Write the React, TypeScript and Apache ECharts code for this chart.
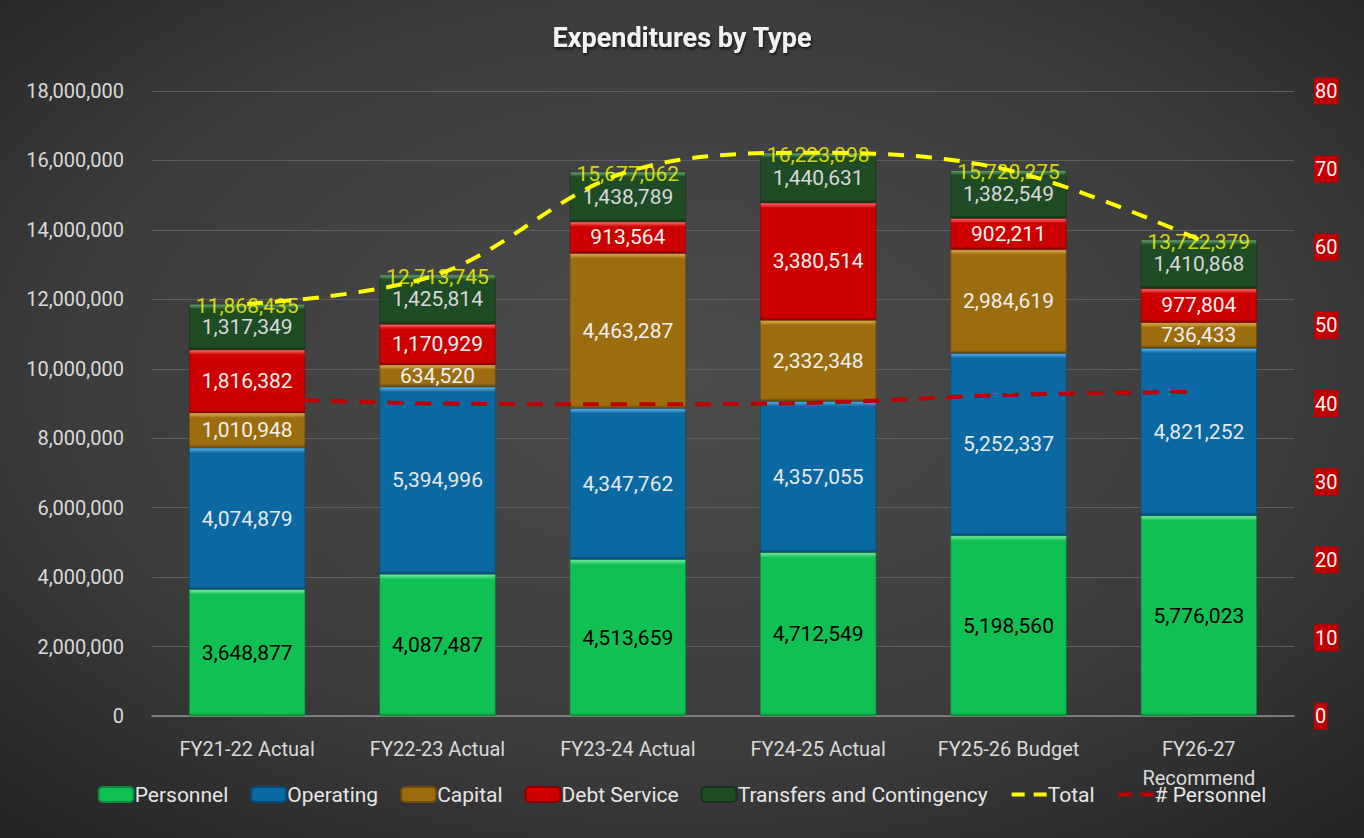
import React, { useEffect, useRef } from "react";
import * as echarts from "echarts";

const categories = [
  "FY21-22 Actual",
  "FY22-23 Actual",
  "FY23-24 Actual",
  "FY24-25 Actual",
  "FY25-26 Budget",
  "FY26-27 Recommend",
];
const personnel = [3648877, 4087487, 4513659, 4712549, 5198560, 5776023];
const operating = [4074879, 5394996, 4347762, 4357055, 5252337, 4821252];
const capital = [1010948, 634520, 4463287, 2332348, 2984619, 736433];
const debtService = [1816382, 1170929, 913564, 3380514, 902211, 977804];
const transfers = [1317349, 1425814, 1438789, 1440631, 1382549, 1410868];
const totals = [11868435, 12713745, 15677062, 16223098, 15720275, 13722379];
const personnelCount = [40.7, 40.0, 39.9, 40.1, 41.1, 41.5];
const leftTicks = { min: 0, max: 18000000, interval: 2000000 };
const rightTicks = { min: 0, max: 80, interval: 10 };

const FONT = "Roboto, 'Noto Sans', sans-serif";
const fmt = (v: number) => Math.round(v).toLocaleString("en-US");

function bevel(light: string, base: string, dark: string, v: number) {
  const h = (v / leftTicks.max) * 625;
  const s = Math.min(0.3, 5 / Math.max(h, 1));
  const e = Math.max(0.7, 1 - 3 / Math.max(h, 1));
  return new echarts.graphic.LinearGradient(0, 0, 0, 1, [
    { offset: 0, color: light },
    { offset: s, color: base },
    { offset: e, color: base },
    { offset: 1, color: dark },
  ]);
}

function barSeries(
  name: string,
  values: number[],
  light: string,
  base: string,
  dark: string,
  labelColor: string
) {
  return {
    name,
    type: "bar",
    stack: "exp",
    barWidth: "61%",
    yAxisIndex: 0,
    itemStyle: { color: base, borderColor: dark, borderWidth: 0.6 },
    data: values.map((v) => ({
      value: v,
      itemStyle: { color: bevel(light, base, dark, v) },
    })),
    label: {
      show: true,
      position: "inside",
      color: labelColor,
      fontFamily: FONT,
      fontSize: 21,
      formatter: (p: any) => fmt(p.value),
    },
  };
}

export default function App() {
  const ref = useRef<HTMLDivElement>(null);
  useEffect(() => {
    if (!ref.current) return;
    const chart = echarts.init(ref.current, undefined, { renderer: "svg" });
    const lineLegend = (name: string, color: string) => ({
      name,
      itemStyle: { opacity: 0 },
      lineStyle: { color, width: 4, type: [13, 9] },
    });
    const option: any = {
      animation: false,
      backgroundColor: {
        type: "radial",
        x: 0.5,
        y: 0.45,
        r: 0.75,
        colorStops: [
          { offset: 0, color: "#4c4c4c" },
          { offset: 0.6, color: "#3c3c3c" },
          { offset: 1, color: "#222222" },
        ],
      },
      title: {
        text: "Expenditures by Type",
        left: "center",
        top: 19,
        textStyle: {
          color: "#f2f2f2",
          fontFamily: FONT,
          fontWeight: "bold",
          fontSize: 27,
          textShadowColor: "rgba(0,0,0,0.7)",
          textShadowBlur: 3,
          textShadowOffsetX: 1,
          textShadowOffsetY: 2,
        },
      },
      legend: {
        bottom: 28,
        left: "center",
        itemWidth: 35,
        itemHeight: 15,
        itemGap: 22,
        textStyle: { color: "#e6e6e6", fontFamily: FONT, fontSize: 21, padding: [0, 0, 0, -4] },
        data: [
          "Personnel",
          "Operating",
          "Capital",
          "Debt Service",
          "Transfers and Contingency",
          lineLegend("Total", "#ffff00"),
          lineLegend("# Personnel", "#c00000"),
        ],
      },
      grid: { left: 152, right: 70, top: 91, bottom: 122 },
      xAxis: {
        type: "category",
        data: categories,
        axisLine: { lineStyle: { color: "#8c8c8c", width: 1.5 } },
        axisTick: { show: false },
        axisLabel: {
          color: "#d9d9d9",
          fontFamily: FONT,
          fontSize: 20,
          margin: 18,
          lineHeight: 29,
          formatter: (v: string) => v.replace(" Recommend", "\nRecommend"),
        },
      },
      yAxis: [
        {
          type: "value",
          min: leftTicks.min,
          max: leftTicks.max,
          interval: leftTicks.interval,
          axisLine: { show: false },
          axisTick: { show: false },
          splitLine: { lineStyle: { color: "#5e5e5e", width: 1.2 } },
          axisLabel: {
            color: "#d9d9d9",
            fontFamily: FONT,
            fontSize: 20,
            margin: 28,
            formatter: (v: number) => fmt(v),
          },
        },
        {
          type: "value",
          min: rightTicks.min,
          max: rightTicks.max,
          interval: rightTicks.interval,
          axisLine: { show: false },
          axisTick: { show: false },
          splitLine: { show: false },
          axisLabel: {
            color: "#f2f2f2",
            fontFamily: FONT,
            fontSize: 20,
            margin: 20,
            backgroundColor: "#c00000",
            padding: [4, 1, 3, 1],
          },
        },
      ],
      series: [
        barSeries("Personnel", personnel, "#7af0a6", "#10c052", "#0a8a3a", "#000000"),
        barSeries("Operating", operating, "#5fb4e8", "#0a68a3", "#064a75", "#e8e8e8"),
        barSeries("Capital", capital, "#e0b050", "#9c6d0e", "#6e4c08", "#f0f0f0"),
        barSeries("Debt Service", debtService, "#ff7070", "#cc0000", "#8e0000", "#f0f0f0"),
        barSeries("Transfers and Contingency", transfers, "#6fa878", "#1f4b25", "#133218", "#d8d8d8"),
        {
          name: "Total labels",
          type: "scatter",
          yAxisIndex: 0,
          data: totals,
          symbolSize: 1,
          z: 4,
          itemStyle: { color: "rgba(0,0,0,0)" },
          label: {
            show: true,
            position: "inside",
            offset: [0, 2],
            color: "#ffff00",
            fontFamily: FONT,
            fontSize: 21,
            formatter: (p: any) => fmt(p.value),
          },
          tooltip: { show: false },
        },
        {
          name: "Total",
          type: "line",
          yAxisIndex: 0,
          data: totals,
          smooth: 0.35,
          symbol: "none",
          z: 5,
          itemStyle: { color: "#ffff00" },
          lineStyle: { color: "#ffff00", width: 4, type: [16, 12] },
        },
        {
          name: "# Personnel",
          type: "line",
          yAxisIndex: 1,
          data: personnelCount,
          smooth: 0.35,
          symbol: "none",
          z: 5,
          itemStyle: { color: "#c00000" },
          lineStyle: { color: "#c00000", width: 4, type: [16, 12] },
        },
      ],
    };
    chart.setOption(option);
    return () => chart.dispose();
  }, []);
  return (
    <div
      ref={ref}
      style={{ position: "absolute", left: 0, top: 0, width: 1364, height: 838 }}
    />
  );
}
